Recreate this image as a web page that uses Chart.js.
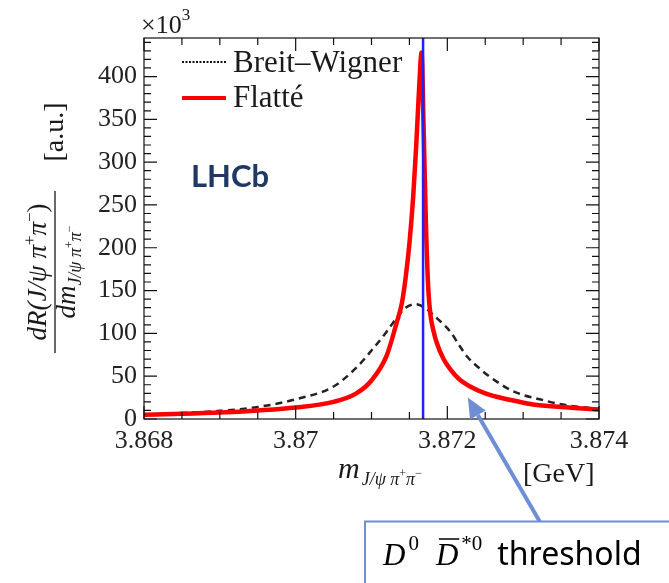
<!DOCTYPE html>
<html>
<head>
<meta charset="utf-8">
<script src="https://cdn.jsdelivr.net/npm/chart.js@4/dist/chart.umd.min.js"></script>
<style>
  html, body { margin: 0; padding: 0; background: #fff; }
  #wrap { width: 669px; height: 583px; position: relative; }
</style>
</head>
<body>
<div id="wrap"><canvas id="c" width="669" height="583"></canvas></div>
<script>
// --- data (x in GeV, y in units of 10^3) ---
const flatteMass = [3.8680, 3.8685, 3.8690, 3.8695, 3.8700, 3.8705, 3.8708, 3.8710, 3.8712, 3.87133,
  3.87140, 3.87145, 3.87150, 3.87155, 3.87159, 3.87163, 3.87166, 3.87169, 3.87172, 3.87175,
  3.87178, 3.87182, 3.87186, 3.87195, 3.87204, 3.87215, 3.8723, 3.8725, 3.87265, 3.8729,
  3.87313, 3.8735, 3.8740];
const flatteRate = [5, 6, 7.5, 10, 13.5, 20, 30, 45, 74, 112,
  135, 165, 205, 260, 320, 390, 428, 330, 220, 150,
  120, 102, 89, 70, 58, 47, 38, 30, 26, 21,
  17, 14, 11];

const bwMass = [3.8680, 3.8685, 3.8690, 3.8695, 3.8700, 3.8705, 3.8708, 3.8710, 3.8712, 3.87133,
  3.87145, 3.87158, 3.8717, 3.87181, 3.87192, 3.87204, 3.87215, 3.87226, 3.8724, 3.87252,
  3.87268, 3.87283, 3.8730, 3.87322, 3.87345, 3.87366, 3.8740];
const bwRate = [5, 7, 9.5, 14, 23, 38, 60, 80, 102, 118,
  130, 134, 130, 122, 113, 102, 87, 73, 61, 52,
  42, 34, 28, 23, 18, 15, 12];

const thresholdMass = 3.87168;   // D0 D*0bar threshold
const arrowTip = { x: 3.87227, y: 25 };

const xTicks = [3.868, 3.870, 3.872, 3.874];
const xTickLabels = ['3.868', '3.87', '3.872', '3.874'];
const yTicks = [0, 50, 100, 150, 200, 250, 300, 350, 400];
const yMax = 445;

const serif = '"Liberation Serif", "DejaVu Serif", serif';


function toPoints(xs, ys) {
  return xs.map((x, i) => ({ x: x, y: ys[i] }));
}

function drawRich(ctx, parts, x, y, align) {
  let w = 0;
  parts.forEach(p => { ctx.font = p[1]; w += ctx.measureText(p[0]).width; });
  let cx = align === 'center' ? x - w / 2 : x;
  parts.forEach(p => {
    ctx.font = p[1];
    ctx.fillText(p[0], cx, y + (p[2] || 0));
    cx += ctx.measureText(p[0]).width;
  });
  return w;
}


// frame with inward ticks on all four sides (ROOT style)
const framePlugin = {
  id: 'frame',
  afterDatasetsDraw(chart) {
    const { ctx, chartArea: a, scales } = chart;
    const sx = scales.x, sy = scales.y;
    ctx.save();
    ctx.strokeStyle = '#111';
    ctx.lineWidth = 1.2;
    ctx.strokeRect(a.left, a.top, a.right - a.left, a.bottom - a.top);

    const major = 13, minor = 7;
    ctx.beginPath();
    for (let i = 0; i < xTicks.length; i++) {
      const px = sx.getPixelForValue(xTicks[i]);
      ctx.moveTo(px, a.bottom); ctx.lineTo(px, a.bottom - major);
      ctx.moveTo(px, a.top); ctx.lineTo(px, a.top + major);
      if (i < xTicks.length - 1) {
        const step = (xTicks[i + 1] - xTicks[i]) / 4;
        for (let k = 1; k < 4; k++) {
          const mx = sx.getPixelForValue(xTicks[i] + k * step);
          ctx.moveTo(mx, a.bottom); ctx.lineTo(mx, a.bottom - minor);
          ctx.moveTo(mx, a.top); ctx.lineTo(mx, a.top + minor);
        }
      }
    }
    for (let v = 0; v <= yMax; v += 10) {
      const py = sy.getPixelForValue(v);
      const len = v % 50 === 0 ? major : minor;
      ctx.moveTo(a.left, py); ctx.lineTo(a.left + len, py);
      ctx.moveTo(a.right, py); ctx.lineTo(a.right - len, py);
    }
    ctx.stroke();
    ctx.restore();
  }
};


// legend, labels, LHCb tag and threshold annotation
const textPlugin = {
  id: 'texts',
  afterDraw(chart) {
    const { ctx, scales } = chart;
    ctx.save();
    ctx.fillStyle = '#1a1a1a';
    ctx.textBaseline = 'alphabetic';

    // x10^3
    const w0 = drawRich(ctx, [['\u00d710', '26px ' + serif]], 141, 33);
    drawRich(ctx, [['3', '17px ' + serif]], 141 + w0, 20);

    // legend
    const ds = chart.data.datasets;
    ctx.lineCap = 'butt';
    ctx.strokeStyle = '#111';
    ctx.lineWidth = 2;
    ctx.setLineDash([2, 1.5]);
    ctx.beginPath(); ctx.moveTo(182, 62); ctx.lineTo(226, 62); ctx.stroke();
    ctx.setLineDash([]);
    ctx.strokeStyle = ds[1].borderColor;
    ctx.lineWidth = 4;
    ctx.beginPath(); ctx.moveTo(182, 98); ctx.lineTo(226, 98); ctx.stroke();
    ctx.font = '31px ' + serif;
    ctx.fillText(ds[2].label, 233, 72);
    ctx.fillText(ds[1].label, 233, 107);

    // LHCb
    ctx.fillStyle = '#1f3864';
    ctx.font = 'bold 31px Lato, "Noto Sans", sans-serif';
    ctx.fillText('LHCb', 191, 187);

    // y title
    ctx.fillStyle = '#1a1a1a';
    ctx.save();
    ctx.translate(55, 272);
    ctx.rotate(-Math.PI / 2);
    const it = 'italic 27px ' + serif;
    const itS = 'italic 18px ' + serif;
    drawRich(ctx, [['dR(J/\u03c8 \u03c0', it], ['+', '17px ' + serif, -11], ['\u03c0', it], ['\u2212', '17px ' + serif, -11], [')', '27px ' + serif]], 0, -9, 'center');
    ctx.strokeStyle = '#1a1a1a';
    ctx.lineWidth = 1.3;
    ctx.beginPath(); ctx.moveTo(-81, 0); ctx.lineTo(81, 0); ctx.stroke();
    drawRich(ctx, [['dm', it], ['J/\u03c8 \u03c0', itS, 6], ['+', '12px ' + serif, -2], ['\u03c0', itS, 6], ['\u2212', '12px ' + serif, -2]], 0, 20, 'center');
    drawRich(ctx, [['[a.u.]', '28px ' + serif]], 140, 8, 'center');
    ctx.restore();

    // x title
    const wm = drawRich(ctx, [['m', 'italic 30px ' + serif]], 338, 478);
    drawRich(ctx, [['J/\u03c8 \u03c0', itS, 0], ['+', '12px ' + serif, -8], ['\u03c0', itS, 0], ['\u2212', '12px ' + serif, -8]], 338 + wm + 2, 485);
    drawRich(ctx, [['[GeV]', '28px ' + serif]], 523, 482);

    // threshold annotation
    const annColor = '#6f8ed6';
    const tipX = scales.x.getPixelForValue(arrowTip.x);
    const tipY = scales.y.getPixelForValue(arrowTip.y);
    const tailX = 540, tailY = 522;
    const ang = Math.atan2(tipY - tailY, tipX - tailX);
    const headLen = 20, headW = 9;
    const baseX = tipX - headLen * Math.cos(ang), baseY = tipY - headLen * Math.sin(ang);
    ctx.strokeStyle = annColor;
    ctx.fillStyle = annColor;
    ctx.lineWidth = 4;
    ctx.beginPath(); ctx.moveTo(tailX, tailY); ctx.lineTo(baseX, baseY); ctx.stroke();
    ctx.beginPath();
    ctx.moveTo(tipX, tipY);
    ctx.lineTo(baseX + headW * Math.sin(ang), baseY - headW * Math.cos(ang));
    ctx.lineTo(baseX - headW * Math.sin(ang), baseY + headW * Math.cos(ang));
    ctx.closePath();
    ctx.fill();

    ctx.fillStyle = '#fff';
    ctx.fillRect(365, 521.5, 310, 70);
    ctx.lineWidth = 2;
    ctx.strokeRect(365, 521.5, 320, 80);

    ctx.fillStyle = '#000';
    const dFont = 'italic 31px ' + serif;
    let x = 383;
    x += drawRich(ctx, [['D', dFont]], x, 565);
    x += drawRich(ctx, [['0', '21px ' + serif]], x + 3, 550) + 20;
    const wd = drawRich(ctx, [['D', dFont]], x, 565);
    ctx.strokeStyle = '#000';
    ctx.lineWidth = 1.5;
    ctx.beginPath(); ctx.moveTo(x + 3, 539); ctx.lineTo(x + wd + 1, 539); ctx.stroke();
    x += wd;
    x += drawRich(ctx, [['*0', '21px ' + serif]], x + 3, 550) + 18;
    drawRich(ctx, [['threshold', '32px "Noto Sans", "Open Sans", sans-serif']], x, 565);

    ctx.restore();
  }
};


new Chart(document.getElementById('c'), {

  type: 'line',

  data: {
    datasets: [
      {
        label: 'threshold',
        data: [{ x: thresholdMass, y: 0 }, { x: thresholdMass, y: yMax }],
        borderColor: '#1f1fff',
        borderWidth: 2.5,
        pointRadius: 0,
        order: 0
      },
      {
        label: 'Flatt\u00e9',
        data: toPoints(flatteMass, flatteRate),
        borderColor: '#ff0000',
        borderWidth: 4.5,
        pointRadius: 0,
        cubicInterpolationMode: 'monotone',
        order: 1
      },
      {
        label: 'Breit\u2013Wigner',
        data: toPoints(bwMass, bwRate),
        borderColor: '#222',
        borderWidth: 2.5,
        borderDash: [7, 5],
        pointRadius: 0,
        cubicInterpolationMode: 'monotone',
        order: 2
      }
    ]
  },

  options: {
    responsive: false,
    animation: false,
    devicePixelRatio: 1,
    layout: { padding: { left: 0, top: 38, right: 70, bottom: 0 } },

    plugins: {
      legend: { display: false },
      tooltip: { enabled: false }
    },

    scales: {
      x: {
        type: 'linear',
        min: 3.868,
        max: 3.874,
        grid: { display: false, drawTicks: false },
        border: { display: false },
        afterBuildTicks: s => { s.ticks = xTicks.map(v => ({ value: v })); },
        afterFit: s => { s.height = 164; },
        ticks: {
          padding: 7,
          maxRotation: 0,
          autoSkip: false,
          color: '#222',
          font: { family: serif, size: 26 },
          callback: (v, i) => xTickLabels[i]
        }
      },
      y: {
        type: 'linear',
        min: 0,
        max: yMax,
        grid: { display: false, drawTicks: false },
        border: { display: false },
        afterBuildTicks: s => { s.ticks = yTicks.map(v => ({ value: v })); },
        afterFit: s => { s.width = 144; },
        ticks: {
          padding: 7,
          autoSkip: false,
          color: '#222',
          font: { family: serif, size: 26 },
          callback: v => String(v)
        }
      }
    }
  },

  plugins: [framePlugin, textPlugin]
});
</script>
</body>
</html>
